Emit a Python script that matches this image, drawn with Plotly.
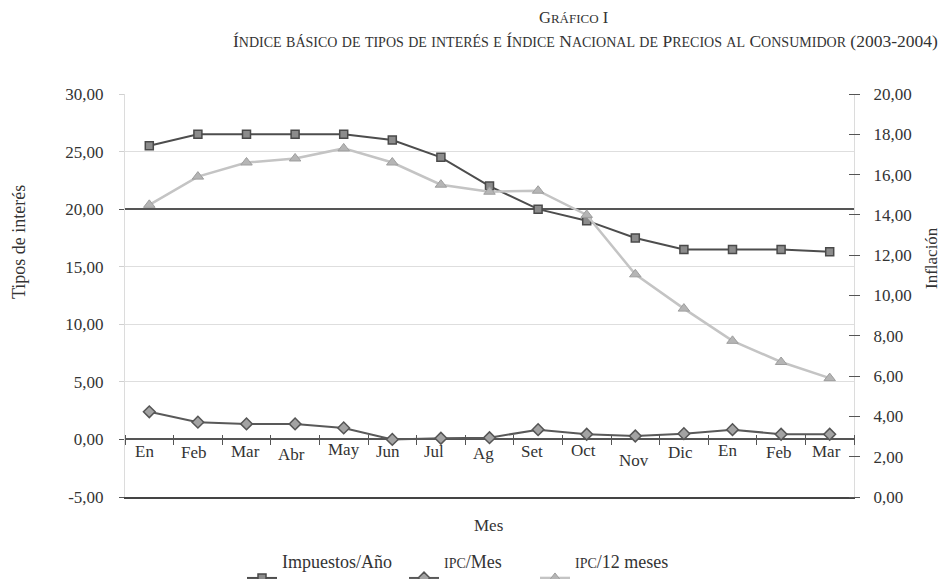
import plotly.graph_objects as go

# ---------------- data ----------------
periods = ["En 2003", "Feb 2003", "Mar 2003", "Abr 2003", "May 2003", "Jun 2003",
           "Jul 2003", "Ag 2003", "Set 2003", "Oct 2003", "Nov 2003", "Dic 2003",
           "En 2004", "Feb 2004", "Mar 2004"]
month_labels = ["En", "Feb", "Mar", "Abr", "May", "Jun", "Jul", "Ag", "Set", "Oct",
                "Nov", "Dic", "En", "Feb", "Mar"]
impuestos_anio = [25.5, 26.5, 26.5, 26.5, 26.5, 26.0, 24.5, 22.0, 20.0, 19.0,
                  17.5, 16.5, 16.5, 16.5, 16.3]
ipc_mes = [2.4, 1.5, 1.35, 1.35, 1.0, 0.0, 0.1, 0.15, 0.85, 0.45,
           0.3, 0.5, 0.85, 0.45, 0.45]
ipc_12_meses = [14.5, 15.9, 16.6, 16.8, 17.3, 16.6, 15.5, 15.15, 15.2, 14.0,
                11.05, 9.35, 7.75, 6.7, 5.9]

left_tick_vals = [-5, 0, 5, 10, 15, 20, 25, 30]
left_tick_labels = ["-5,00", "0,00", "5,00", "10,00", "15,00", "20,00", "25,00", "30,00"]
right_tick_vals = [0, 2, 4, 6, 8, 10, 12, 14, 16, 18, 20]
right_tick_labels = ["0,00", "2,00", "4,00", "6,00", "8,00", "10,00", "12,00",
                     "14,00", "16,00", "18,00", "20,00"]
dark_ref_vals = [-5, 0, 20]

# ---------------- styling ----------------
FONT = "Liberation Serif"
TXT = "#333333"
LEFT_RANGE = [-5, 30]
RIGHT_RANGE = [0, 20]
OFF = 8                      # page body margin of the html page
W, H = 946 - OFF, 579 - OFF
ML, MR, MT, MB = 125 - OFF, 92, 94 - OFF, 82
PW = W - ML - MR
PH = H - MT - MB
PLOT_LEFT_REF = 125          # reference-pixel position of the plot edges
PLOT_BOTTOM_REF = 497

# per-label offsets (px) of the hand-placed month labels
label_dy = [12.4, 13.4, 12.4, 15, 9.7, 12.4, 12.4, 14, 12.4, 11.4, 21.4, 13, 10.7, 13.4, 12.4]
label_dx = [-5, -4, -1.5, -4, 0, -4, -7, -6.5, -6, -3, -1, -3, -5.5, -2, -3]


def smallcaps(text, big, small):
    out = []
    for ch in text:
        if ch.islower():
            out.append('<span style="font-size:%gpx">%s</span>' % (small, ch.upper()))
        else:
            out.append('<span style="font-size:%gpx">%s</span>' % (big, ch))
    return "".join(out)


def px_x(px):
    return (px - PLOT_LEFT_REF) / PW


def px_y(py):
    return (PLOT_BOTTOM_REF - py) / PH


def legend_name(label_html):
    return '<span style="font-size:18px">%s</span><br>&nbsp;' % label_html


zero_frac = (0 - LEFT_RANGE[0]) / (LEFT_RANGE[1] - LEFT_RANGE[0])

fig = go.Figure()

# helper (invisible) trace so the dark reference lines / bottom frame axes are drawn
fig.add_trace(go.Scatter(
    x=periods, y=impuestos_anio, xaxis="x2", yaxis="y3", mode="lines",
    line=dict(width=0, color="rgba(0,0,0,0)"), showlegend=False, hoverinfo="skip",
))
fig.add_trace(go.Scatter(
    x=periods, y=impuestos_anio, name=legend_name("Impuestos/Año"),
    mode="lines+markers", yaxis="y", legend="legend",
    line=dict(color="#4d4d4d", width=2),
    marker=dict(symbol="square", size=8, color="#8c8c8c",
                line=dict(color="#4a4a4a", width=1.5)),
))
fig.add_trace(go.Scatter(
    x=periods, y=ipc_mes,
    name=legend_name(smallcaps("ipc", 18, 14) + "/Mes"),
    mode="lines+markers", yaxis="y", legend="legend2",
    line=dict(color="#595959", width=2),
    marker=dict(symbol="diamond", size=9, color="#a3a3a3",
                line=dict(color="#555555", width=1.5)),
))
fig.add_trace(go.Scatter(
    x=periods, y=ipc_12_meses,
    name=legend_name(smallcaps("ipc", 18, 14) + "/12 meses"),
    mode="lines+markers", yaxis="y2", legend="legend3",
    line=dict(color="#c4c4c4", width=2.5),
    marker=dict(symbol="triangle-up", size=10, color="#b5b5b5",
                line=dict(color="#9e9e9e", width=1)),
))

annotations = []
for p, lab, dy, dx in zip(periods, month_labels, label_dy, label_dx):
    annotations.append(dict(x=p, y=0, xref="x", yref="y", text=lab, showarrow=False,
                            yanchor="middle", xanchor="center", yshift=-dy, xshift=dx,
                            font=dict(family=FONT, size=17, color=TXT)))

annotations += [
    dict(x=px_x(573), y=px_y(17), xref="paper", yref="paper", showarrow=False,
         text=smallcaps("Gráfico I", 16.5, 13), xanchor="center", yanchor="middle",
         font=dict(family=FONT, size=16.5, color=TXT)),
    dict(x=px_x(585.5), y=px_y(41), xref="paper", yref="paper", showarrow=False,
         text=smallcaps("Índice básico de tipos de interés e Índice Nacional de Precios al Consumidor (2003-2004)", 17.5, 14),
         xanchor="center", yanchor="middle",
         font=dict(family=FONT, size=17.5, color=TXT)),
    dict(x=px_x(19), y=px_y(242), xref="paper", yref="paper", showarrow=False,
         text="Tipos de interés", textangle=-90, xanchor="center", yanchor="middle",
         font=dict(family=FONT, size=18, color=TXT)),
    dict(x=px_x(932), y=px_y(258), xref="paper", yref="paper", showarrow=False,
         text="Inflación", textangle=-90, xanchor="center", yanchor="middle",
         font=dict(family=FONT, size=17, color=TXT)),
    dict(x=px_x(488), y=px_y(525), xref="paper", yref="paper", showarrow=False,
         text="Mes", xanchor="center", yanchor="middle",
         font=dict(family=FONT, size=17, color=TXT)),
]

legend_common = dict(orientation="h", xanchor="left", yanchor="top", valign="bottom",
                     bgcolor="rgba(0,0,0,0)", font=dict(family=FONT, size=11, color=TXT))

fig.update_layout(
    width=W, height=H,
    margin=dict(l=ML, r=MR, t=MT, b=MB, autoexpand=False),
    paper_bgcolor="white", plot_bgcolor="white",
    font=dict(family=FONT, size=17, color=TXT),
    annotations=annotations,
    legend=dict(x=px_x(242), y=px_y(550), **legend_common),
    legend2=dict(x=px_x(404), y=px_y(550), **legend_common),
    legend3=dict(x=px_x(535), y=px_y(550), **legend_common),
    xaxis=dict(type="category", categoryorder="array", categoryarray=periods,
               range=[-0.5, len(periods) - 0.5],
               showticklabels=False, showgrid=False, showline=False, zeroline=False,
               ticks="outside", tickson="boundaries", ticklen=10, tickwidth=1,
               tickcolor="#555555", anchor="free", position=zero_frac + 5 / PH),
    xaxis2=dict(type="category", categoryorder="array", categoryarray=periods,
                range=[-0.5, len(periods) - 0.5], overlaying="x", anchor="y3",
                side="bottom", showticklabels=False, showgrid=False, ticks="",
                showline=True, linecolor="#444444", linewidth=2, zeroline=False),
    yaxis=dict(range=LEFT_RANGE, tickmode="array", tickvals=left_tick_vals,
               ticktext=left_tick_labels, ticks="outside", ticklen=5,
               tickcolor="#d0d0d0", showgrid=True, gridcolor="#dedede", gridwidth=1,
               showline=True, linecolor="#dcdcdc", linewidth=1, mirror=True,
               zeroline=False, ticklabelstandoff=12,
               tickfont=dict(family=FONT, size=17, color=TXT)),
    yaxis3=dict(range=LEFT_RANGE, overlaying="y", anchor="x2", tickmode="array",
                tickvals=dark_ref_vals, showticklabels=False, ticks="outside",
                ticklen=5, tickcolor="#555555", showgrid=True, gridcolor="#555555",
                gridwidth=1.5, zeroline=False, showline=False),
    yaxis2=dict(range=RIGHT_RANGE, overlaying="y", side="right", anchor="free",
                position=px_x(848), tickmode="array", tickvals=right_tick_vals,
                ticktext=right_tick_labels, ticks="outside", ticklen=11,
                tickcolor="#555555", showgrid=False, zeroline=False, showline=False,
                ticklabelstandoff=10,
                tickfont=dict(family=FONT, size=17, color=TXT)),
    showlegend=True,
)

fig.write_html("out.html")
